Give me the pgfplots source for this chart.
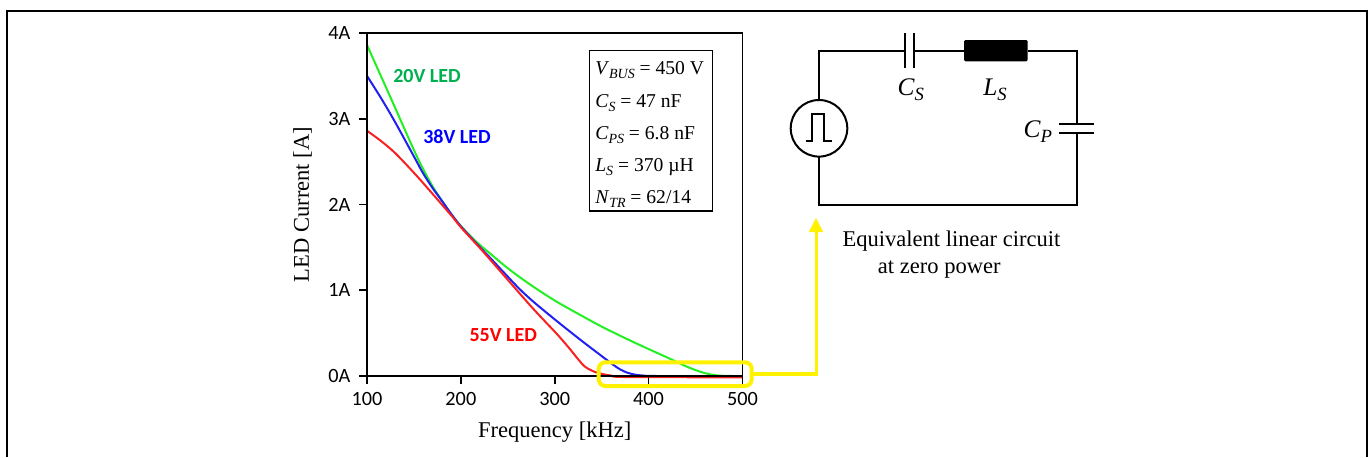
\documentclass[border=0pt]{standalone}
\usepackage{fontspec}
\usepackage{pgfplots}
\pgfplotsset{compat=1.18}
\setmainfont{Liberation Serif}
\newfontfamily\carlito{Carlito}
\newcommand\fs[1]{\fontsize{#1}{#1}\selectfont}
\newcommand\symb[3]{\textit{#1}\raisebox{-.22em}{\fs{#3}\textit{#2}}}
\definecolor{lblgreen}{HTML}{00B050}
\definecolor{curvegreen}{HTML}{22F022}
\definecolor{curveblue}{HTML}{2020F0}
\definecolor{curvered}{HTML}{F82020}

\begin{document}
% picture units are reference pixels, y pointing down
\begin{tikzpicture}[x=0.75pt,y=-0.75pt]
\path[use as bounding box] (0,0) rectangle (1370,457);
\draw[line width=1.5pt] (7,457)--(7,11)--(1367,11)--(1367,457);

\begin{axis}[
    at={(275.25pt,-282pt)}, anchor=south west,
    scale only axis, width=281.6pt, height=257.25pt,
    xmin=100, xmax=500, ymin=0, ymax=4,
    xtick={100,200,300,400,500}, xticklabels={100,200,300,400,500},
    ytick={0,1,2,3,4}, yticklabels={0A,1A,2A,3A,4A},
    tick align=outside, xtick pos=bottom, ytick pos=left,
    major tick length=6pt,
    axis line style={line width=1.2pt}, tick style={line width=1.2pt, black},
    tick label style={font=\carlito\fs{15.2}},
    x tick label style={yshift=-3pt},
    y tick label style={xshift=-3pt},
    xlabel={Frequency [kHz]}, ylabel={LED Current [A]},
    label style={font=\fs{16.9}},
    x label style={at={(axis description cs:0.5,-0.18)},anchor=base},
    y label style={at={(axis description cs:-0.155,0.5)},anchor=base},
    axis on top, clip=false,
    every axis plot/.append style={line width=1.5pt, line join=round, smooth},
]
\addplot[curvegreen] coordinates {
    (100,3.86) (125,3.25) (150,2.635) (160,2.41) (170,2.21) (180,2.04) (190,1.885)
    (200,1.75) (215,1.58) (231,1.43) (252.5,1.235) (277.4,1.04) (302.3,0.865)
    (330,0.695) (352,0.565) (384,0.395) (420,0.215) (441,0.108) (455,0.05)
    (465,0.02) (475,0.005) (490,0) (500,0)
};
\addplot[curveblue] coordinates {
    (100,3.50) (115,3.24) (130,2.96) (150,2.56) (160,2.36) (170,2.19) (180,2.04)
    (190,1.885) (200,1.745) (215,1.565) (231,1.38) (249,1.17) (262,1.02)
    (277.4,0.865) (302.3,0.64) (327,0.425) (348.5,0.245) (362.7,0.128) (370,0.075)
    (377,0.04) (385,0.017) (395,0.004) (410,0) (500,0)
};
\addplot[curvered] coordinates {
    (100,2.86) (115,2.74) (130,2.60) (150,2.37) (167,2.16) (190,1.87) (200,1.735)
    (220.5,1.49) (231,1.36) (252.5,1.09) (277.4,0.78) (302.3,0.49) (315,0.33)
    (325,0.195) (332,0.11) (340,0.06) (348,0.03) (360,0.005) (375,-0.012) (500,-0.015)
};
\end{axis}

% curve labels
\begin{scope}[every node/.style={anchor=base west, inner sep=0pt, font=\carlito\bfseries\fs{15}}]
\node[text=lblgreen] at (393,82.7) {20V LED};
\node[text=blue] at (423,143.7) {38V LED};
\node[text=red] at (469.3,341.7) {55V LED};
\end{scope}

% parameter box
\draw[line width=0.9pt, fill=white] (589.3,50.7) rectangle (712.3,211);
\begin{scope}[every node/.style={anchor=base west, inner sep=0pt, font=\fs{14.7}}]
\node at (595,74) {\symb{V}{BUS}{10.5} = 450 V};
\node at (595,107) {\symb{C}{S}{10.5} = 47 nF};
\node at (595,139) {\symb{C}{PS}{10.5} = 6.8 nF};
\node at (595,171) {\symb{L}{S}{10.5} = 370 µH};
\node at (595,203) {\symb{N}{TR}{10.5} = 62/14};
\end{scope}

% yellow zoom box and arrow
\draw[yellow, line width=3pt, rounded corners=5pt] (598.7,362.3) rectangle (751.7,386);
\draw[yellow, line width=2.4pt] (752,374)--(816.5,374)--(816.5,230);
\fill[yellow] (816,218)--(823.2,232)--(808.8,232)--cycle;

% equivalent circuit
\begin{scope}[line width=1.5pt]
\draw (819,100)--(819,50.7)--(905,50.7);
\draw (905,33.3)--(905,68.3);
\draw (914,33.3)--(914,68.3);
\draw (914,50.7)--(964,50.7);
\fill[rounded corners=1pt] (964,40) rectangle (1027.7,61.3);
\draw (1027.7,50.7)--(1076.7,50.7)--(1076.7,124);
\draw (1059.3,124)--(1094,124);
\draw (1059.3,132.7)--(1094,132.7);
\draw (1076.7,132.7)--(1076.7,205.3)--(819,205.3)--(819,156.6);
\draw (819,128.3) circle[radius=28.3];
\draw (805.7,140.7)--(811.7,140.7)--(811.7,114.3)--(824,114.3)--(824,140.7)--(831.7,140.7);
\end{scope}
\begin{scope}[every node/.style={anchor=base west, inner sep=0pt, font=\fs{19}}]
\node at (897.3,95) {\symb{C}{S}{14}};
\node at (983,95) {\symb{L}{S}{14}};
\node at (1023.3,137.3) {\symb{C}{P}{14}};
\end{scope}
\begin{scope}[every node/.style={anchor=base west, inner sep=0pt, font=\fs{16.9}}]
\node at (842.3,246) {Equivalent linear circuit};
\node at (877.7,273) {at zero power};
\end{scope}
\end{tikzpicture}
\end{document}
